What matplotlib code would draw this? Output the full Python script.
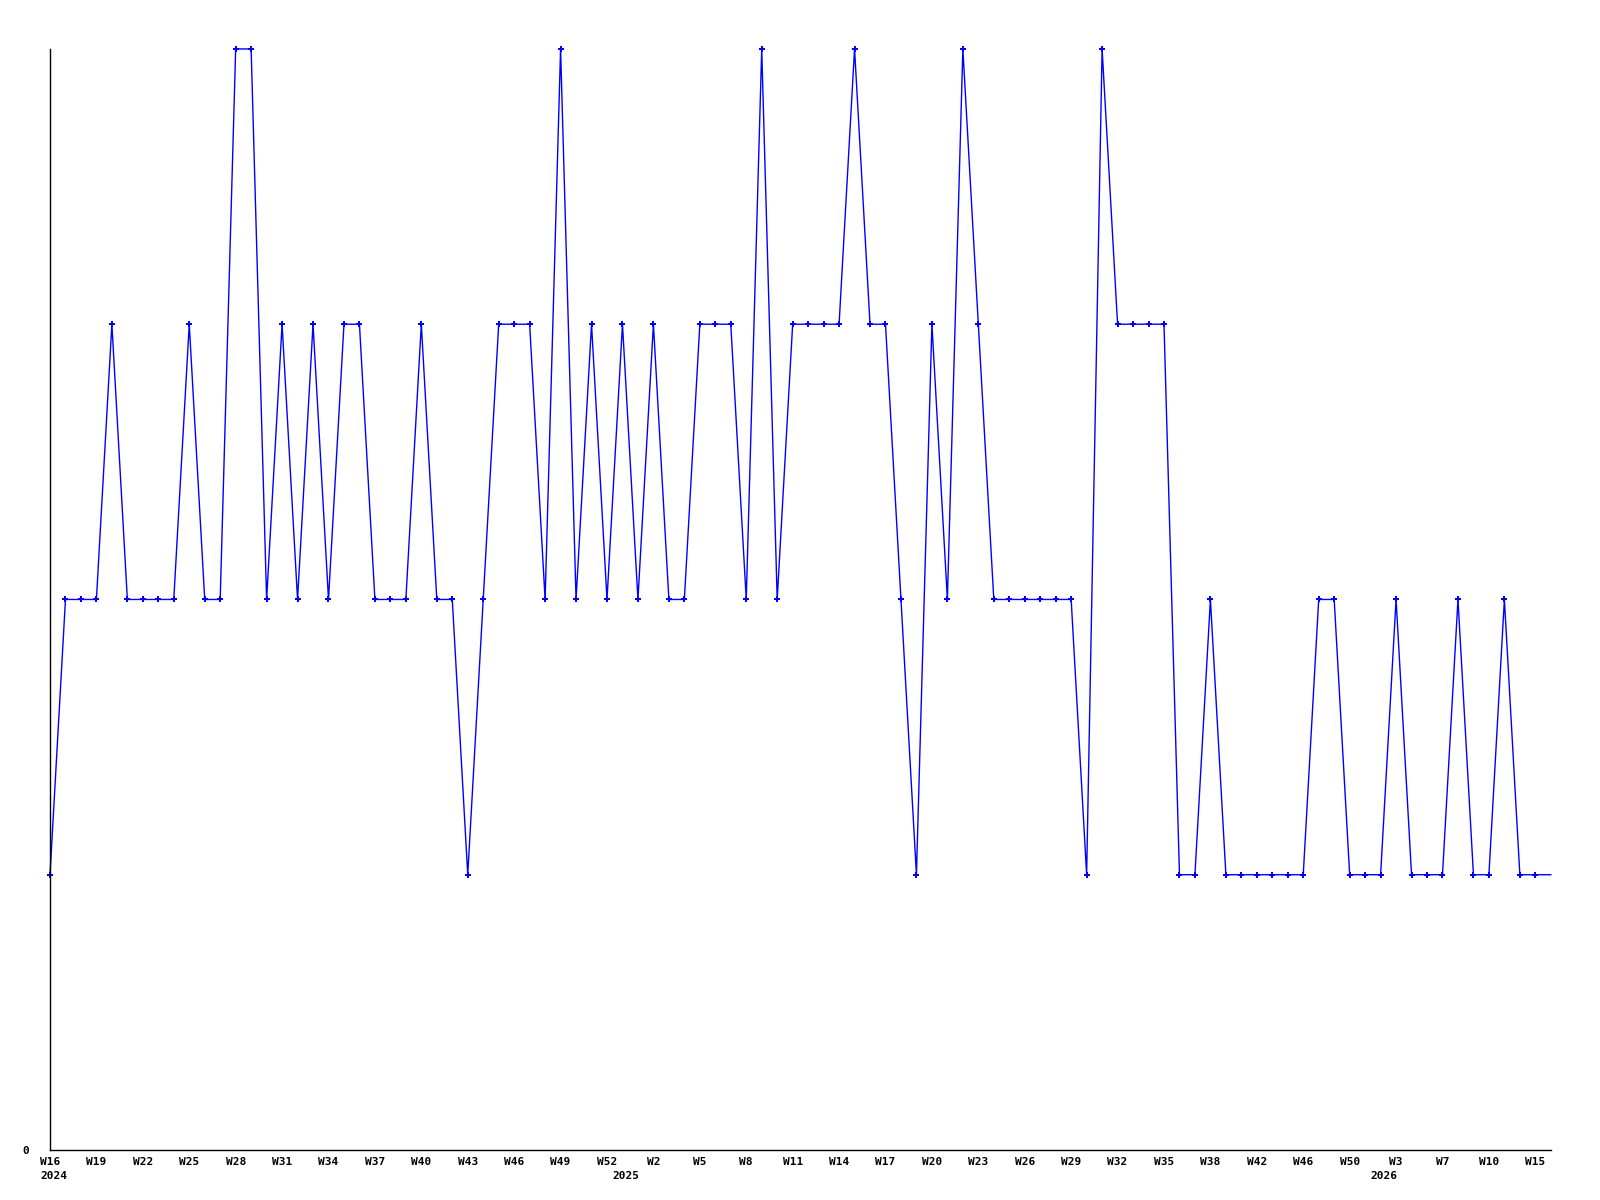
import matplotlib.pyplot as plt
import matplotlib.transforms as mtransforms

# weekly values (one point per week, last point is the current partial week)
values = [1, 2, 2, 2, 3, 2, 2, 2, 2, 3, 2, 2, 4, 4, 2, 3, 2, 3, 2, 3,
          3, 2, 2, 2, 3, 2, 2, 1, 2, 3, 3, 3, 2, 4, 2, 3, 2, 3, 2, 3,
          2, 2, 3, 3, 3, 2, 4, 2, 3, 3, 3, 3, 4, 3, 3, 2, 1, 3, 2, 4,
          3, 2, 2, 2, 2, 2, 2, 1, 4, 3, 3, 3, 3, 1, 1, 2, 1, 1, 1, 1,
          1, 1, 2, 2, 1, 1, 1, 2, 1, 1, 1, 2, 1, 1, 2, 1, 1, 1]

# labels shown every third point
tick_labels = ['W16', 'W19', 'W22', 'W25', 'W28', 'W31', 'W34', 'W37', 'W40',
               'W43', 'W46', 'W49', 'W52', 'W2', 'W5', 'W8', 'W11', 'W14',
               'W17', 'W20', 'W23', 'W26', 'W29', 'W32', 'W35', 'W38', 'W42',
               'W46', 'W50', 'W3', 'W7', 'W10', 'W15']
years = ['2024', '2025', '2026']
year_start = [0, 37, 86]

mono = {'family': 'DejaVu Sans Mono', 'weight': 'bold', 'size': 8}

fig = plt.figure(figsize=(16, 12), dpi=100)
ax = fig.add_axes([0.03125, 0.0417, 0.938, 0.9175])

x = list(range(len(values)))
ax.plot(x, values, color='#0000ff', linewidth=1, clip_on=False)
ax.plot(x[:-1], values[:-1], linestyle='none', marker='P', markersize=4.5,
        color='#0000ff', markeredgewidth=0, clip_on=False)

ax.set_xlim(0, len(values) - 1)
ax.set_ylim(0, 4)

for s in ['top', 'right']:
    ax.spines[s].set_visible(False)
ax.spines['left'].set_linewidth(1)
ax.spines['bottom'].set_linewidth(1)

ax.set_xticks(range(0, len(values) - 1, 3))
ax.set_xticklabels(tick_labels, fontdict=mono)
ax.set_yticks([0])
ax.set_yticklabels(['0'], fontdict=mono)
ax.tick_params(axis='both', length=0)
ax.tick_params(axis='x', pad=5)
ax.tick_params(axis='y', pad=22 - 7)

# year labels under the first week of each year
trans = mtransforms.blended_transform_factory(ax.transData, ax.transAxes)
for yr, idx in zip(years, year_start):
    ax.text(idx - 0.65, -0.024, yr, transform=trans, ha='left', va='center', **mono)

fig.savefig('out.png', dpi=100)
